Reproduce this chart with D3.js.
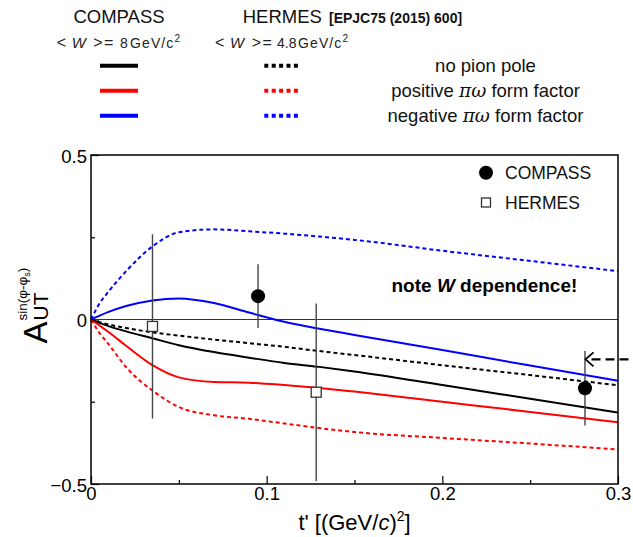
<!DOCTYPE html>
<html>
<head>
<meta charset="utf-8">
<script src="https://cdn.jsdelivr.net/npm/d3@7"></script>
<style>
  html, body { margin: 0; padding: 0; background: #fff; }
  svg { display: block; font-family: "Liberation Sans", Arial, Helvetica, sans-serif; }
</style>
</head>
<body>
<svg id="chart" width="633" height="537"></svg>
<script>
// ---- data ----
const tGrid = [0, 0.005, 0.01, 0.02, 0.035, 0.05, 0.07, 0.09, 0.11, 0.13, 0.15, 0.2, 0.25, 0.3];
const compassNoPole = [0, -0.011, -0.020, -0.036, -0.057, -0.078, -0.099, -0.116, -0.132, -0.144, -0.158, -0.199, -0.241, -0.283];
const hermesNoPole  = [0, -0.008, -0.015, -0.026, -0.039, -0.049, -0.061, -0.072, -0.083, -0.096, -0.108, -0.139, -0.169, -0.200];
const compassPos    = [0, -0.019, -0.038, -0.080, -0.139, -0.176, -0.190, -0.192, -0.199, -0.208, -0.219, -0.250, -0.281, -0.3125];
const hermesPos     = [0, -0.042, -0.075, -0.145, -0.216, -0.266, -0.291, -0.302, -0.316, -0.330, -0.342, -0.360, -0.377, -0.395];
const compassNeg    = [0, 0.012, 0.023, 0.041, 0.058, 0.064, 0.050, 0.021, -0.007, -0.028, -0.047, -0.093, -0.140, -0.186];
const hermesNeg     = [0, 0.050, 0.085, 0.147, 0.222, 0.265, 0.274, 0.268, 0.261, 0.252, 0.242, 0.209, 0.178, 0.147];

const compassT = [0.0951, 0.2812];
const compassA = [0.071, -0.209];
const compassErr = [0.097, 0.113];
const hermesT = [0.035, 0.1282];
const hermesA = [-0.021, -0.221];
const hermesErr = [0.28, 0.27];

const arrowT = 0.2815, arrowA = -0.121;

const xMajor = [0, 0.1, 0.2, 0.3];
const xMinor = [0.05, 0.15, 0.25];
const yMajor = [-0.5, 0, 0.5];
const yMinor = [-0.25, 0.25];

const legendLabels = ["no pion pole", "positive", "negative"];
const legendColors = ["#000000", "#ff0000", "#0000ff"];

// ---- layout ----
const svg = d3.select("#chart");
const L = 91, R = 618, T = 155, B = 484;
const x = d3.scaleLinear().domain([0, 0.3]).range([L, R]);
const y = d3.scaleLinear().domain([-0.5, 0.5]).range([B, T]);
const font = 18.5;

// ---- axes ----
const gx = svg.append("g").attr("transform", `translate(0,${B})`)
  .call(d3.axisBottom(x).tickValues(xMajor).tickSize(-8).tickPadding(3).tickFormat(d3.format("")));
const gxm = svg.append("g").attr("transform", `translate(0,${B})`)
  .call(d3.axisBottom(x).tickValues(xMinor).tickSize(-4).tickFormat(""));
const gy = svg.append("g").attr("transform", `translate(${L},0)`)
  .call(d3.axisLeft(y).tickValues(yMajor).tickSize(-8).tickPadding(4).tickFormat(d3.format("")));
const gym = svg.append("g").attr("transform", `translate(${L},0)`)
  .call(d3.axisLeft(y).tickValues(yMinor).tickSize(-4).tickFormat(""));
[gx, gxm, gy, gym].forEach(g => {
  g.select(".domain").remove();
  g.selectAll("line").attr("stroke", "#000").attr("stroke-width", 1.2);
  g.selectAll("text").attr("font-size", font).attr("fill", "#000")
    .attr("font-family", "'Liberation Sans', Arial, sans-serif");
});
gy.selectAll("text").attr("dy", "0.38em");

// zero line
svg.append("line").attr("x1", L).attr("x2", R).attr("y1", y(0)).attr("y2", y(0))
  .attr("stroke", "#333").attr("stroke-width", 1.2);

// ---- curves ----
const line = d3.line().x(d => x(d[0])).y(d => y(d[1])).curve(d3.curveMonotoneX);
const curves = [
  {v: compassNoPole, c: legendColors[0], dash: null},
  {v: compassPos, c: legendColors[1], dash: null},
  {v: compassNeg, c: legendColors[2], dash: null},
  {v: hermesNoPole, c: legendColors[0], dash: "4,3"},
  {v: hermesPos, c: legendColors[1], dash: "4,3"},
  {v: hermesNeg, c: legendColors[2], dash: "4,3"}
];
curves.forEach(cv => {
  svg.append("path").datum(tGrid.map((t, i) => [t, cv.v[i]]))
    .attr("d", line).attr("fill", "none").attr("stroke", cv.c)
    .attr("stroke-width", 2).attr("stroke-dasharray", cv.dash);
});

// ---- data points ----
const errColor = "#444";
hermesT.forEach((t, i) => {
  svg.append("line").attr("x1", x(t)).attr("x2", x(t))
    .attr("y1", y(hermesA[i] + hermesErr[i])).attr("y2", y(hermesA[i] - hermesErr[i]))
    .attr("stroke", errColor).attr("stroke-width", 1.4);
});
compassT.forEach((t, i) => {
  svg.append("line").attr("x1", x(t)).attr("x2", x(t))
    .attr("y1", y(compassA[i] + compassErr[i])).attr("y2", y(compassA[i] - compassErr[i]))
    .attr("stroke", errColor).attr("stroke-width", 1.4);
});
hermesT.forEach((t, i) => {
  svg.append("rect").attr("x", x(t) - 5).attr("y", y(hermesA[i]) - 5)
    .attr("width", 10).attr("height", 10)
    .attr("fill", "#fff").attr("stroke", "#333").attr("stroke-width", 1.3);
});
compassT.forEach((t, i) => {
  svg.append("circle").attr("cx", x(t)).attr("cy", y(compassA[i])).attr("r", 7).attr("fill", "#000");
});

// ---- arrow at right ----
const ax = x(arrowT), ay = y(arrowA);
svg.append("line").attr("x1", ax + 6).attr("x2", 633).attr("y1", ay).attr("y2", ay)
  .attr("stroke", "#000").attr("stroke-width", 2.3).attr("stroke-dasharray", "9,5");
svg.append("path").attr("d", `M${ax + 8},${ay - 7} L${ax},${ay} L${ax + 8},${ay + 7}`)
  .attr("fill", "none").attr("stroke", "#000").attr("stroke-width", 1.8);

// ---- frame ----
svg.append("rect").attr("x", L).attr("y", T).attr("width", R - L).attr("height", B - T)
  .attr("fill", "none").attr("stroke", "#000").attr("stroke-width", 1.5);

// ---- in-plot legend ----
svg.append("circle").attr("cx", 486).attr("cy", 172.7).attr("r", 7).attr("fill", "#000");
svg.append("text").attr("x", 505).attr("y", 178.5).attr("font-size", 17.5).attr("fill", "#111").text("COMPASS");
svg.append("rect").attr("x", 481.5).attr("y", 198).attr("width", 9).attr("height", 9)
  .attr("fill", "#fff").attr("stroke", "#333").attr("stroke-width", 1.3);
svg.append("text").attr("x", 505).attr("y", 209.3).attr("font-size", 17.5).attr("fill", "#111").text("HERMES");

// note
const note = svg.append("text").attr("x", 391.5).attr("y", 291.7).attr("font-size", 19)
  .attr("font-weight", "bold").attr("fill", "#000");
note.append("tspan").text("note ");
note.append("tspan").attr("font-style", "italic").text("W");
note.append("tspan").text(" dependence!");

// ---- axis titles ----
const xt = svg.append("text").attr("x", (L + R) / 2).attr("y", 530).attr("text-anchor", "middle")
  .attr("font-size", 22).attr("fill", "#000");
xt.append("tspan").text("t' [(GeV/");
xt.append("tspan").attr("font-style", "italic").text("c");
xt.append("tspan").text(")");
xt.append("tspan").attr("font-size", 14).attr("dy", -9).text("2");
xt.append("tspan").attr("dy", 9).text("]");

const yt = svg.append("g").attr("transform", "translate(46.7,343.5) rotate(-90)");
yt.append("text").attr("x", 0).attr("y", 0).attr("font-size", 33).attr("fill", "#000").text("A");
yt.append("text").attr("x", 23).attr("y", 1).attr("font-size", 21).attr("fill", "#000").text("UT");
const sup = yt.append("text").attr("x", 23).attr("y", -20).attr("font-size", 13.5).attr("fill", "#000");
sup.append("tspan").text("sin(φ-φ");
sup.append("tspan").attr("font-size", 9).attr("dy", 3).text("s");
sup.append("tspan").attr("dy", -3).text(")");

// ---- top legend ----
svg.append("text").attr("x", 119).attr("y", 22.7).attr("text-anchor", "middle")
  .attr("font-size", 18.5).attr("fill", "#111").text("COMPASS");
svg.append("text").attr("x", 242.7).attr("y", 22.7)
  .attr("font-size", 18.5).attr("fill", "#111").text("HERMES");
svg.append("text").attr("x", 329).attr("y", 22.7).attr("font-size", 14).attr("font-weight", "bold")
  .attr("fill", "#111").text("[EPJC75 (2015) 600]");

function wLabel(val, xs) {
  const t = svg.append("text").attr("y", 48.3).attr("font-size", 14).attr("fill", "#222");
  t.append("tspan").attr("x", xs[0]).attr("font-size", 16).text("<");
  t.append("tspan").attr("x", xs[1]).attr("font-style", "italic").attr("font-size", 15).text("W");
  t.append("tspan").attr("x", xs[2]).attr("font-size", 16).text(">");
  t.append("tspan").attr("x", xs[3]).attr("font-size", 16).text("=");
  t.append("tspan").attr("x", xs[4]).text(val);
  t.append("tspan").attr("x", xs[5]).attr("letter-spacing", 1.1).text("GeV/c");
  t.append("tspan").attr("font-size", 10).attr("dy", -6).text("2");
}
wLabel("8", [56.7, 71.7, 93.3, 104, 120, 130]);
wLabel("4.8", [215, 230, 251.7, 262.4, 277, 298]);

const rowY = [65.7, 90.7, 115.7];
rowY.forEach((ry, i) => {
  svg.append("line").attr("x1", 100).attr("x2", 138).attr("y1", ry).attr("y2", ry)
    .attr("stroke", legendColors[i]).attr("stroke-width", 4);
  svg.append("line").attr("x1", 264.3).attr("x2", 298).attr("y1", ry).attr("y2", ry)
    .attr("stroke", legendColors[i]).attr("stroke-width", 4).attr("stroke-dasharray", "4,3.4");
});
svg.append("text").attr("x", 485.5).attr("y", rowY[0] + 6.5).attr("text-anchor", "middle")
  .attr("font-size", 18.5).attr("fill", "#111").text(legendLabels[0]);
[1, 2].forEach(i => {
  const t = svg.append("text").attr("x", 485.5).attr("y", rowY[i] + 6.5).attr("text-anchor", "middle")
    .attr("font-size", 18.5).attr("fill", "#111");
  t.append("tspan").text(legendLabels[i] + " ");
  t.append("tspan").attr("font-style", "italic").attr("font-family", "'DejaVu Serif', serif").text("πω");
  t.append("tspan").text(" form factor");
});
</script>
</body>
</html>
